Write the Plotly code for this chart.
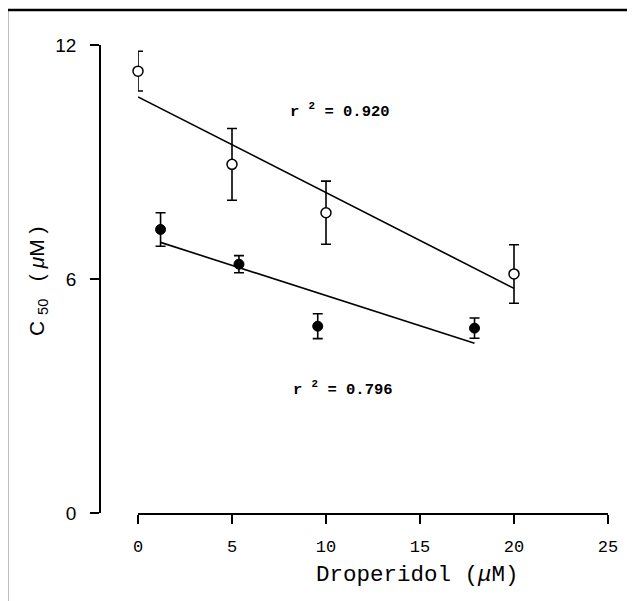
import plotly.graph_objects as go

# ---- data ----
open_x = [0, 5, 10, 20]
open_y = [11.33, 8.94, 7.70, 6.13]
open_err = [0.51, 0.92, 0.81, 0.75]

filled_x = [1.2, 5.37, 9.56, 17.9]
filled_y = [7.27, 6.38, 4.79, 4.74]
filled_err = [0.43, 0.22, 0.32, 0.26]

open_fit_intercept = 10.67
open_fit_slope = -0.2455
filled_fit_intercept = 7.125
filled_fit_slope = -0.155

open_r2 = "0.920"
filled_r2 = "0.796"

x_ticks = [0, 5, 10, 15, 20, 25]
y_ticks = [0, 6, 12]

# ---- layout geometry (screen pixels; page body has an 8px margin) ----
W, H = 635, 601
OFF = 8
PL, PR, PT, PB = 100, 608, 45, 513   # screen pixels of the plot paper area
ML = PL - OFF
MT = PT - OFF
MR = W - (PR - OFF)
MB = H - (PB - OFF)
PW = PR - PL
PH = PB - PT


def px(xs):
    return (xs - PL) / PW


def py(ys):
    return (PB - ys) / PH


fig = go.Figure()

# regression lines
ox = [min(open_x), max(open_x)]
fx = [min(filled_x), max(filled_x)]
fig.add_trace(go.Scatter(x=ox, y=[open_fit_intercept + open_fit_slope * v for v in ox],
                         mode="lines", line=dict(color="black", width=1.6),
                         showlegend=False, cliponaxis=False))
fig.add_trace(go.Scatter(x=fx, y=[filled_fit_intercept + filled_fit_slope * v for v in fx],
                         mode="lines", line=dict(color="black", width=1.6),
                         showlegend=False, cliponaxis=False))

# data points with error bars
fig.add_trace(go.Scatter(x=open_x, y=open_y, mode="markers",
                         error_y=dict(type="data", array=open_err, color="black",
                                      thickness=1.6, width=5),
                         marker=dict(symbol="circle", size=10, color="white",
                                     line=dict(color="black", width=1.5)),
                         showlegend=False, cliponaxis=False))
fig.add_trace(go.Scatter(x=filled_x, y=filled_y, mode="markers",
                         error_y=dict(type="data", array=filled_err, color="black",
                                      thickness=1.6, width=5),
                         marker=dict(symbol="circle", size=10, color="black",
                                     line=dict(color="black", width=1)),
                         showlegend=False, cliponaxis=False))

annotations = [
    dict(x=10.77, y=10.33, xref="x", yref="y",
         text="<b>r <sup>2</sup> = " + open_r2 + "</b>", showarrow=False,
         font=dict(family="Liberation Mono", size=15.5, color="black")),
    dict(x=10.93, y=3.2, xref="x", yref="y",
         text="<b>r <sup>2</sup> = " + filled_r2 + "</b>", showarrow=False,
         font=dict(family="Liberation Mono", size=15.5, color="black")),
    dict(x=px(417), y=py(575), xref="paper", yref="paper",
         text="Droperidol (<i>μ</i>M)", showarrow=False,
         xanchor="center", yanchor="middle",
         font=dict(family="Liberation Mono", size=22.5, color="black")),
    dict(x=px(38), y=py(281), xref="paper", yref="paper",
         text="C <sub>50</sub>   ( <i>μ</i>M )", showarrow=False, textangle=-90,
         xanchor="center", yanchor="middle",
         font=dict(family="Liberation Sans", size=21, color="black")),
]

shapes = [
    dict(type="rect", xref="paper", yref="paper",
         x0=px(7), x1=px(660), y0=py(630), y1=py(10),
         line=dict(color="black", width=2.5), fillcolor="rgba(0,0,0,0)"),
]

fig.update_layout(
    width=W, height=H,
    margin=dict(l=ML, r=MR, t=MT, b=MB),
    paper_bgcolor="white", plot_bgcolor="white",
    showlegend=False,
    annotations=annotations,
    shapes=shapes,
    xaxis=dict(range=[0, 25], domain=[px(138), 1], tickvals=x_ticks,
               ticktext=[str(v) for v in x_ticks],
               showline=True, linecolor="black", linewidth=1.5,
               ticks="outside", ticklen=9, tickwidth=1.5, tickcolor="black",
               showgrid=False, zeroline=False, anchor="y",
               ticklabelstandoff=8,
               tickfont=dict(family="Liberation Mono", size=17, color="black")),
    yaxis=dict(range=[0, 12], tickvals=y_ticks,
               ticktext=[str(v) for v in y_ticks],
               showline=True, linecolor="black", linewidth=1.5,
               ticks="outside", ticklen=9, tickwidth=1.5, tickcolor="black",
               showgrid=False, zeroline=False,
               anchor="free", position=0,
               ticklabelstandoff=10,
               tickfont=dict(family="Liberation Sans", size=19, color="black")),
)

fig.write_html("out.html")
